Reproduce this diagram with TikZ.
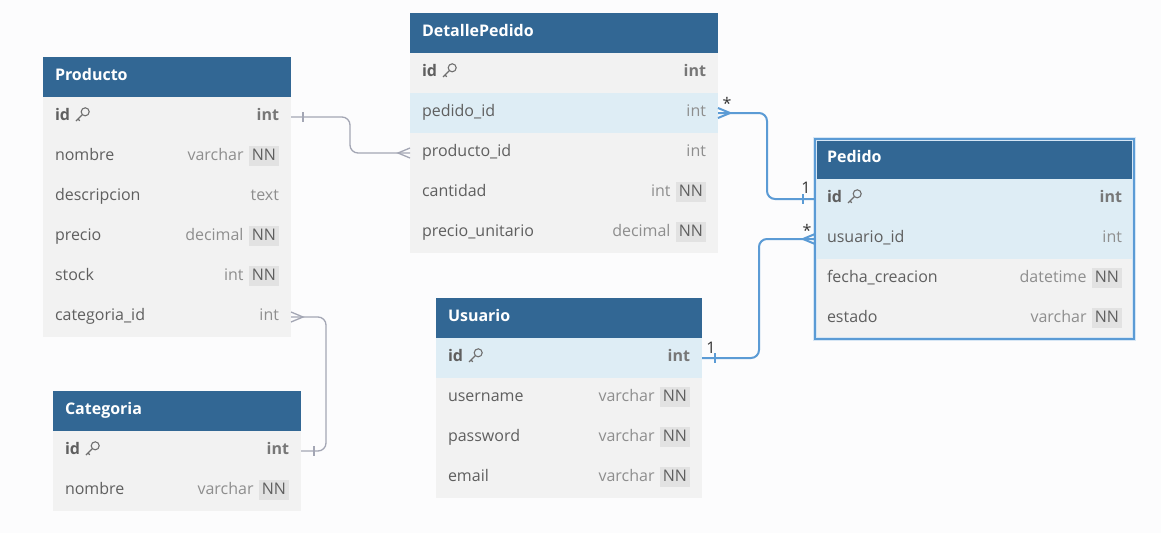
\documentclass[tikz,border=0pt]{standalone}
\usepackage{fontspec}
\setmainfont{Open Sans}
\usetikzlibrary{positioning}

\definecolor{hdrblue}{HTML}{326794}
\definecolor{rowbg}{HTML}{F2F2F2}
\definecolor{rowsel}{HTML}{DEEDF5}
\definecolor{txtcol}{HTML}{5F5F5F}
\definecolor{typcol}{HTML}{8E8E8E}
\definecolor{nnbg}{HTML}{E2E2E2}
\definecolor{lnkgray}{HTML}{A3A6B4}
\definecolor{lnkblue}{HTML}{5B9BD5}
\definecolor{pagebg}{HTML}{FCFCFD}

\newcommand{\nn}{{\setlength{\fboxsep}{3pt}\colorbox{nnbg}{\color{txtcol}\rule[-3pt]{0pt}{14pt}NN}}}
\newcommand{\ty}[1]{{\color{typcol}#1}}
\newcommand{\pkty}[1]{{\color{txtcol!85}\bfseries #1}}
% crow's foot (many) and bar (one) ends
\newcommand{\manymark}[3]{\draw[#3] (#1) ++(0,5) -- ++(#2,-5) -- ++(-#2,-5);}
\newcommand{\onemark}[3]{\draw[#3] (#1) ++(#2,-5) -- ++(0,10);}

\begin{document}
\begin{tikzpicture}[x=1pt,y=-1pt,
  font=\fontsize{16}{19}\selectfont,
  hdr/.style={rectangle,fill=hdrblue,text=white,font=\fontsize{16}{19}\selectfont\bfseries,
    anchor=north west,text width=#1,inner xsep=12pt,inner ysep=0pt,outer sep=0pt,
    minimum height=40pt,text height=11pt,text depth=5pt,align=left},
  fld/.style={rectangle,fill=rowbg,text=txtcol,text width=#1,inner xsep=12pt,inner ysep=0pt,
    outer sep=0pt,minimum height=40pt,text height=11pt,text depth=5pt,align=left,node distance=0pt},
  sel/.style={fill=rowsel},
  card/.style={text=black!80,inner sep=0pt,font=\fontsize{16}{19}\selectfont},
  glink/.style={lnkgray,line width=1.3pt,rounded corners=8pt},
  blink/.style={lnkblue,line width=2pt,rounded corners=8pt},
  keyicon/.pic={
    \draw[txtcol!90,line width=1.1pt] (3.2,-3.2) circle (4);
    \draw[txtcol!90,line width=1.1pt] (0.3,-0.3) -- (-6,6) (-4,4) -- (-2.2,5.8);
  }]

  \fill[pagebg] (0,0) rectangle (1161,533);
  \useasboundingbox (0,0) rectangle (1161,533);

  % Producto
  \node[hdr=224pt] (prod) at (43,57) {Producto};
  \node[fld=224pt,below=of prod] (prod-id) {\textbf{id}\hfill\pkty{int}};
  \node[fld=224pt,below=of prod-id] (prod-nom) {nombre\hfill\ty{varchar}~\nn};
  \node[fld=224pt,below=of prod-nom] (prod-des) {descripcion\hfill\ty{text}};
  \node[fld=224pt,below=of prod-des] (prod-pre) {precio\hfill\ty{decimal}~\nn};
  \node[fld=224pt,below=of prod-pre] (prod-sto) {stock\hfill\ty{int}~\nn};
  \node[fld=224pt,below=of prod-sto] (prod-cat) {categoria\_id\hfill\ty{int}};

  % Categoria
  \node[hdr=224pt] (cat) at (53,391) {Categoria};
  \node[fld=224pt,below=of cat] (cat-id) {\textbf{id}\hfill\pkty{int}};
  \node[fld=224pt,below=of cat-id] (cat-nom) {nombre\hfill\ty{varchar}~\nn};

  % DetallePedido
  \node[hdr=284pt] (det) at (410,13) {DetallePedido};
  \node[fld=284pt,below=of det] (det-id) {\textbf{id}\hfill\pkty{int}};
  \node[fld=284pt,sel,below=of det-id] (det-ped) {pedido\_id\hfill\ty{int}};
  \node[fld=284pt,below=of det-ped] (det-pid) {producto\_id\hfill\ty{int}};
  \node[fld=284pt,below=of det-pid] (det-can) {cantidad\hfill\ty{int}~\nn};
  \node[fld=284pt,below=of det-can] (det-pu) {precio\_unitario\hfill\ty{decimal}~\nn};

  % Usuario
  \node[hdr=242pt] (usr) at (436,298) {Usuario};
  \node[fld=242pt,sel,below=of usr] (usr-id) {\textbf{id}\hfill\pkty{int}};
  \node[fld=242pt,below=of usr-id] (usr-nam) {username\hfill\ty{varchar}~\nn};
  \node[fld=242pt,below=of usr-nam] (usr-pw) {password\hfill\ty{varchar}~\nn};
  \node[fld=242pt,below=of usr-pw] (usr-em) {email\hfill\ty{varchar}~\nn};

  % Pedido
  \node[hdr=295pt] (ped) at (815,139) {Pedido};
  \node[fld=295pt,sel,below=of ped] (ped-id) {\textbf{id}\hfill\pkty{int}};
  \node[fld=295pt,sel,below=of ped-id] (ped-uid) {usuario\_id\hfill\ty{int}};
  \node[fld=295pt,below=of ped-uid] (ped-fec) {fecha\_creacion\hfill\ty{datetime}~\nn};
  \node[fld=295pt,below=of ped-fec] (ped-est) {estado\hfill\ty{varchar}~\nn};
  \draw[lnkblue!25,line width=4pt] (ped.north west) rectangle (ped-est.south east);
  \draw[lnkblue,line width=1.5pt] (ped.north west) rectangle (ped-est.south east);

  % keys
  \foreach \k in {prod-id,cat-id,det-id,usr-id,ped-id}
    \pic at ([xshift=39pt,yshift=2pt]\k.west) {keyicon};

  % relations
  \draw[glink] (prod-id.east) -- ++(59,0) |- (det-pid.west);
  \onemark{prod-id.east}{12}{lnkgray,line width=1.3pt}
  \manymark{det-pid.west}{-12}{lnkgray,line width=1.3pt}

  \draw[glink] (prod-cat.east) -- ++(35,0) |- (cat-id.east);
  \manymark{prod-cat.east}{12}{lnkgray,line width=1.3pt}
  \onemark{cat-id.east}{13}{lnkgray,line width=1.3pt}

  \draw[blink] (det-ped.east) -- ++(49,0) |- (ped-id.west);
  \manymark{det-ped.east}{12}{lnkblue,line width=2pt}
  \onemark{ped-id.west}{-12}{lnkblue,line width=2pt}
  \node[card] at ([xshift=9pt,yshift=10pt]det-ped.east) {*};
  \node[card] at ([xshift=-9pt,yshift=11pt]ped-id.west) {1};

  \draw[blink] (usr-id.east) -- ++(57,0) |- (ped-uid.west);
  \onemark{usr-id.east}{13}{lnkblue,line width=2pt}
  \manymark{ped-uid.west}{-12}{lnkblue,line width=2pt}
  \node[card] at ([xshift=9pt,yshift=10pt]usr-id.east) {1};
  \node[card] at ([xshift=-8pt,yshift=9pt]ped-uid.west) {*};

\end{tikzpicture}
\end{document}
